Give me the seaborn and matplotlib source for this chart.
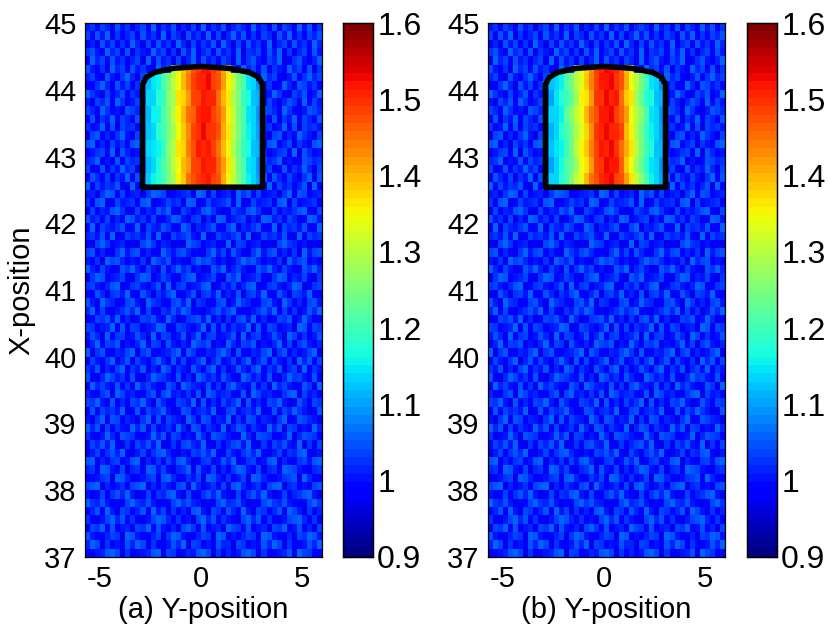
import numpy as np
import matplotlib
matplotlib.use('Agg')
import matplotlib.pyplot as plt
from matplotlib.path import Path
import seaborn as sns

# background estimate, one digit per cell: value = 0.965 + digit / 100
BACKGROUND = [
    "46375284615739264815373926481575394628175394826",
    "72849163572846392751846392715948362751849263758",
    "35184726395173846295173648295173846291573846295",
    "68429573816429573618492573846291657384926157384",
    "19573846257193846271593846275193684275913684259",
    "84261957384621957384269573841629573816429573816",
    "57318426951738426957318426951738642957314826957",
    "23695184726395184726935184762395817462395187462",
    "96417358264917358246917358249617358249631758249",
    "41758296347158296374158926374185926374158629374",
    "75296341875296348175269341875293641875296314875",
    "38164927538164972538196427538169427538164927538",
    "62493817562493817652493871562498371562493817564",
    "17825369417825396417285369412785369417825396417",
    "89351746289351764289531746283951746289357164289",
    "34672918534672981534762918537462918534672918534",
    "56914283756914238756192483756912483756914238756",
    "71283649571283694571823649578123649571283649517",
    "28537164928537146928357164923857164928537416928",
    "93746582193746528193476582194376582193746258193",
    "45169827345169872345619827345196827345169287345",
    "62891374562891347562981374568291374562891734562",
    "17354896217354869217534896213754896217354689217",
    "84627153984627135984267153982467153984627513984",
    "39175468339175486339715468337915468339175648339",
    "56483912756483921756843912754683912756483192756",
    "21796345121796354121976345129176345121796534121",
    "78352169478352196478532169473852169478352619478",
    "43619785243619758243169785241369785243619578243",
    "95274138695274183695724138692574138695274318695",
    "16983457216983475216893457218693457216983547216",
    "67425891367425819367245891364725891367425981367",
    "32851674932851647932581674935281674932851764932",
    "84196523784196532784916523781496523784196352784",
    "59372146859372164859732146857932146859372614859",
    "13768492513768429513678492516378492513768249513",
    "76245918376245981376425918372645918376245198376",
    "48519367248519376248159367245819367248519736248",
    "25937681425937618425397681429537681425937168425",
    "91683254791683245791863254796183254791683524791",
    "37426915837426951837246915834726915837426195837",
    "64815379264815397264185379261485379264815739264",
    "82159746382159764382519746385219746382159674382",
    "19574382619574328619754382617954382619574238619",
    "53268197453268179453628197456328197453268917453",
    "76941825376941852376491825374691825376941285376",
    "28375649128375694128735649127835649128375964128",
    "41692873541692837541962873549162873541692387541",
    "95817264395817246395187264391587264395817624395",
    "62349518762349581762439518764239518762349158762",
    "37584921637584912637854921635784921637584291637",
    "14726859314726895314276859317426859314726589314",
    "89153672489153627489513672485913672489153267489",
    "56298437156298473156928437152698437156298743156",
    "23467198523467189523647198526347198523467819523",
    "78915346278915364278195346271895346278915634278",
    "41372685941372658941732685943172685941372568941",
    "96584123796584132796854123795684123796584312796",
    "35829417635829471635289417638529417635829741635",
    "62147958362147985362417958364217958362147895362",
    "17693824517693842517963824519763824517693482517",
    "84325761984325716984235761982435761984325176984",
    "59716243859716234859176243855176243859716324859",
    "23458971623458917623548971625348971623458197623",
]

# rows 44.5 down to 42.5, columns -3.0 to 3.25 in steps of 0.25, in hundredths
BAND_A = [
    [108, 112, 114, 117, 120, 125, 130, 135, 139, 143, 147, 150, 152, 152, 150, 146, 141, 136, 130, 125, 120, 116, 113, 110, 108],
    [109, 111, 115, 116, 121, 124, 131, 134, 140, 144, 148, 151, 151, 153, 149, 147, 142, 135, 131, 124, 121, 115, 114, 109, 107],
    [107, 113, 113, 118, 119, 126, 129, 136, 138, 142, 149, 149, 152, 151, 151, 145, 140, 137, 129, 126, 119, 117, 112, 111, 108],
    [110, 111, 116, 116, 121, 124, 131, 135, 140, 145, 146, 151, 152, 152, 148, 146, 142, 135, 131, 124, 121, 115, 114, 109, 109],
    [108, 112, 114, 118, 120, 125, 129, 134, 139, 143, 149, 150, 153, 150, 150, 147, 141, 136, 130, 126, 120, 116, 113, 110, 107],
    [109, 113, 115, 116, 119, 126, 130, 136, 138, 144, 147, 152, 151, 152, 149, 145, 140, 135, 129, 125, 119, 117, 112, 111, 108],
    [107, 111, 113, 117, 121, 124, 131, 134, 140, 142, 148, 149, 152, 151, 151, 146, 142, 137, 131, 124, 121, 115, 114, 109, 109],
    [109, 112, 116, 118, 120, 125, 129, 135, 139, 145, 147, 150, 151, 152, 148, 147, 141, 135, 130, 126, 120, 116, 113, 110, 107],
]
BAND_B = [
    [108, 111, 114, 117, 120, 124, 129, 134, 138, 143, 148, 151, 153, 152, 151, 146, 140, 135, 129, 124, 119, 116, 113, 110, 108],
    [109, 112, 113, 116, 121, 125, 130, 133, 139, 144, 149, 152, 152, 153, 150, 147, 141, 134, 130, 125, 120, 115, 114, 109, 107],
    [107, 110, 115, 118, 119, 123, 128, 135, 137, 142, 150, 150, 153, 151, 152, 145, 139, 136, 128, 123, 118, 117, 112, 111, 108],
    [110, 113, 114, 116, 122, 126, 131, 134, 140, 145, 147, 152, 152, 153, 149, 146, 142, 134, 130, 126, 121, 115, 113, 109, 109],
    [108, 111, 113, 118, 120, 124, 129, 133, 138, 143, 150, 151, 153, 151, 151, 148, 140, 135, 129, 124, 119, 116, 114, 110, 107],
    [109, 112, 115, 116, 119, 125, 130, 135, 139, 144, 148, 152, 151, 153, 150, 145, 141, 136, 130, 125, 120, 117, 112, 111, 108],
    [107, 110, 114, 117, 121, 123, 128, 134, 137, 142, 149, 150, 153, 152, 152, 146, 139, 134, 128, 123, 118, 115, 113, 109, 109],
    [109, 113, 113, 118, 120, 126, 131, 133, 140, 145, 147, 151, 152, 153, 149, 147, 142, 136, 131, 126, 121, 116, 114, 110, 107],
]

OUTLINE_Y_POS = [-2.9, -2.9, -2.7, -2.3, -1.4, 0.0, 1.4, 2.4, 2.85, 3.05, 3.05, -2.9]
OUTLINE_X_POS = [42.54, 44.08, 44.19, 44.26, 44.32, 44.35, 44.32, 44.26, 44.19, 44.08, 42.54, 42.54]

Y_TICKS = [-5, 0, 5]
X_TICKS = [37, 38, 39, 40, 41, 42, 43, 44, 45]
CBAR_TICKS = [0.9, 1.0, 1.1, 1.2, 1.3, 1.4, 1.5, 1.6]
CBAR_LABELS = ['0.9', '1', '1.1', '1.2', '1.3', '1.4', '1.5', '1.6']

Y_MIN = -5.75
X_MAX = 45.0
COL_W = 0.25
ROW_H = 0.125


def col_pos(v):
    return (np.asarray(v) - Y_MIN) / COL_W


def row_pos(v):
    return (X_MAX - np.asarray(v)) / ROW_H


def build_grid(band):
    grid = 0.965 + np.array([[int(d) for d in row] for row in BACKGROUND]) / 100.0
    outline = Path(np.column_stack([OUTLINE_Y_POS, OUTLINE_X_POS]))
    band = np.array(band) / 100.0
    for r in range(grid.shape[0]):
        for c in range(grid.shape[1]):
            y = Y_MIN + (c + 0.5) * COL_W
            x = X_MAX - (r + 0.5) * ROW_H
            if outline.contains_point((y, x)):
                i = min(int((44.5 - x) / 0.25), band.shape[0] - 1)
                j = min(max(int((y + 3.0) / 0.25), 0), band.shape[1] - 1)
                grid[r, c] = band[i, j]
    return grid


sns.set_style('white', {'text.color': 'black', 'axes.labelcolor': 'black',
                        'xtick.color': 'black', 'ytick.color': 'black'})
plt.rcParams['font.family'] = ['Liberation Sans', 'DejaVu Sans']

W, H = 830.0, 630.0
fig = plt.figure(figsize=(8.3, 6.3), dpi=100)


def draw_panel(left, cbar_left, band, xlabel):
    ax = fig.add_axes([left / W, 1 - 557 / H, 237 / W, 534 / H])
    cax = fig.add_axes([cbar_left / W, 1 - 557 / H, 30 / W, 534 / H])
    sns.heatmap(build_grid(band), ax=ax, cbar_ax=cax, cmap=plt.get_cmap('jet', 64),
                vmin=0.9, vmax=1.6, xticklabels=False, yticklabels=False,
                cbar_kws={'ticks': CBAR_TICKS})

    ax.plot(col_pos(OUTLINE_Y_POS), row_pos(OUTLINE_X_POS), color='black', lw=4,
            solid_joinstyle='round')

    ax.set_xticks(col_pos(Y_TICKS))
    ax.set_xticklabels([str(t) for t in Y_TICKS], rotation=0, fontsize=21)
    ax.set_yticks(row_pos(X_TICKS))
    ax.set_yticklabels([str(t) for t in X_TICKS], rotation=0, fontsize=21)
    ax.tick_params(axis='both', direction='in', length=3, width=0.8, color='black',
                   bottom=True, left=True, pad=6)
    ax.set_xlabel(xlabel, fontsize=21, labelpad=2)
    for s in ax.spines.values():
        s.set_visible(True)
        s.set_linewidth(0.9)
        s.set_color('black')

    cax.set_yticklabels(CBAR_LABELS, fontsize=23)
    cax.tick_params(axis='y', direction='in', length=5, width=0.8, color='black',
                    left=True, right=True, pad=3)
    for s in cax.spines.values():
        s.set_visible(True)
        s.set_linewidth(0.9)
        s.set_color('black')
    return ax


ax_a = draw_panel(85, 343, BAND_A, '(a) Y-position')
ax_b = draw_panel(488, 747, BAND_B, '(b) Y-position')
ax_a.set_ylabel('X-position', fontsize=21, labelpad=6)

fig.savefig('out.png', dpi=100)
